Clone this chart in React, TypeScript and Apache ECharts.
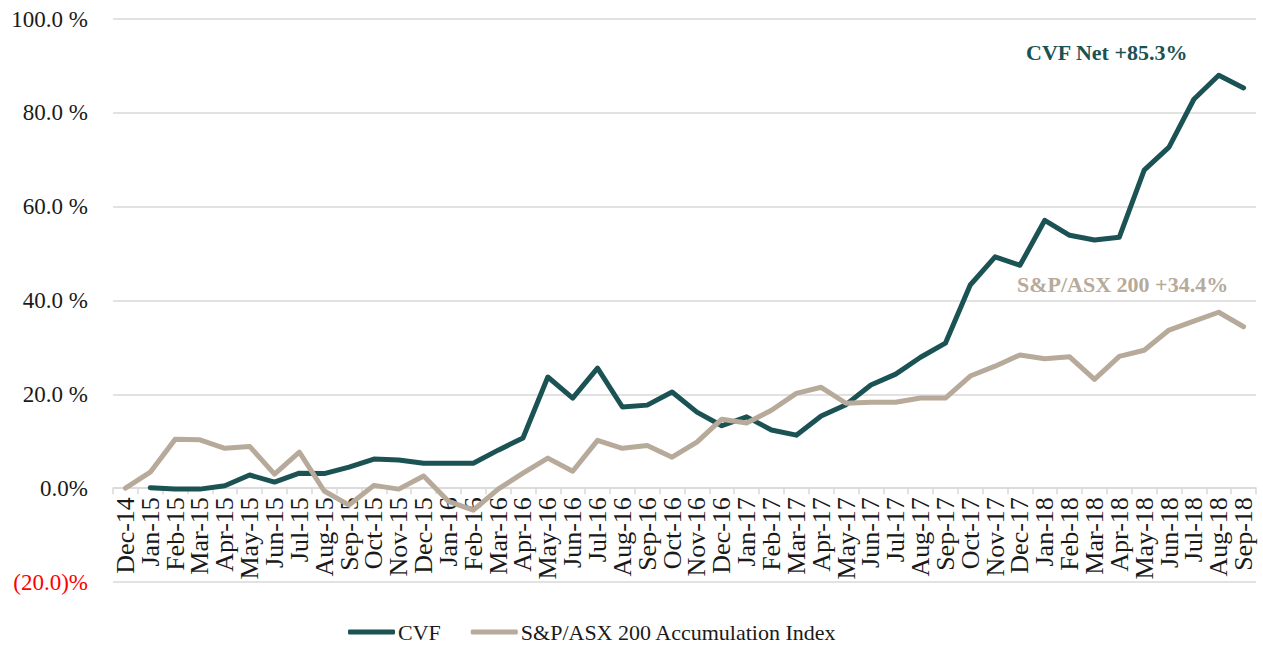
import React, { useEffect, useRef } from "react";
import * as echarts from "echarts";

const categories = [
  "Dec-14","Jan-15","Feb-15","Mar-15","Apr-15","May-15","Jun-15","Jul-15","Aug-15","Sep-15","Oct-15","Nov-15",
  "Dec-15","Jan-16","Feb-16","Mar-16","Apr-16","May-16","Jun-16","Jul-16","Aug-16","Sep-16","Oct-16","Nov-16",
  "Dec-16","Jan-17","Feb-17","Mar-17","Apr-17","May-17","Jun-17","Jul-17","Aug-17","Sep-17","Oct-17","Nov-17",
  "Dec-17","Jan-18","Feb-18","Mar-18","Apr-18","May-18","Jun-18","Jul-18","Aug-18","Sep-18",
];

const cvf: (number | null)[] = [
  null, 0.1, -0.2, -0.2, 0.5, 2.8, 1.3, 3.2, 3.1, 4.5, 6.2, 6.0,
  5.3, 5.3, 5.3, 8.1, 10.7, 23.7, 19.2, 25.6, 17.3, 17.7, 20.5, 16.2,
  13.3, 15.2, 12.4, 11.3, 15.4, 17.8, 22.0, 24.3, 27.9, 30.9, 43.3, 49.3,
  47.5, 57.1, 53.9, 52.9, 53.5, 67.8, 72.7, 82.9, 88.0, 85.3,
];

const asx200: number[] = [
  0, 3.4, 10.4, 10.3, 8.5, 8.9, 3.0, 7.7, -0.6, -3.6, 0.6, -0.2,
  2.6, -2.8, -4.7, -0.2, 3.2, 6.4, 3.6, 10.2, 8.5, 9.1, 6.6, 9.8,
  14.7, 13.9, 16.6, 20.2, 21.5, 18.1, 18.3, 18.3, 19.2, 19.2, 23.9, 26.0,
  28.4, 27.6, 28.0, 23.2, 28.1, 29.4, 33.7, 35.6, 37.5, 34.4,
];

const yMin = -20;
const yMax = 100;
const yStep = 20;

const seriesNames = ["CVF", "S&P/ASX 200 Accumulation Index"];
const annotations = ["CVF Net +85.3%", "S&P/ASX 200 +34.4%"];

const TEAL = "#1b5254";
const TAN = "#b7aa9a";
const GRID = "#d9d9d9";
const FONT = "'Liberation Serif', 'Times New Roman', serif";

export default function App() {
  const ref = useRef<HTMLDivElement>(null);
  useEffect(() => {
    if (!ref.current) return;
    const chart = echarts.init(ref.current, null, { renderer: "svg" });
    chart.setOption({
      animation: false,
      backgroundColor: "#ffffff",
      textStyle: { fontFamily: FONT },
      grid: { left: 113, right: 7, top: 19, bottom: 66, containLabel: false, outerBoundsMode: "none" },
      legend: {
        left: 348,
        top: 621,
        padding: 0,
        itemWidth: 47,
        itemHeight: 5,
        itemGap: 30,
        icon: "roundRect",
        textStyle: { fontFamily: FONT, fontSize: 22, color: "#1a1a1a", padding: [0, 0, 0, -2] },
        data: seriesNames,
      },
      xAxis: {
        type: "category",
        data: categories,
        boundaryGap: true,
        offset: 0,
        axisLine: { show: true, onZero: false, lineStyle: { color: GRID, width: 1.5 } },
        axisTick: { show: true, length: 6, lineStyle: { color: GRID, width: 1.5 } },
        axisLabel: {
          interval: 0,
          rotate: 90,
          margin: 9,
          fontFamily: FONT,
          fontSize: 26,
          color: "#1a1a1a",
        },
        splitLine: { show: false },
      },
      yAxis: {
        type: "value",
        min: yMin,
        max: yMax,
        interval: yStep,
        axisLine: { show: false },
        axisTick: { show: false },
        splitLine: { show: true, lineStyle: { color: GRID, width: 1.5 } },
        axisLabel: {
          margin: 25,
          fontFamily: FONT,
          fontSize: 23,
          color: (v: any) => (Number(v) < 0 ? "#ff0000" : "#1a1a1a"),
          formatter: (v: number) => {
            if (v === 0) return "0.0%";
            if (v < 0) return `(${Math.abs(v).toFixed(1)})%`;
            return `${v.toFixed(1)} %`;
          },
        },
      },
      series: [
        {
          name: seriesNames[0],
          type: "line",
          data: cvf,
          showSymbol: false,
          symbol: "none",
          color: TEAL,
          lineStyle: { color: TEAL, width: 5, cap: "round", join: "round" },
        },
        {
          name: seriesNames[1],
          type: "line",
          data: asx200,
          showSymbol: false,
          symbol: "none",
          color: TAN,
          lineStyle: { color: TAN, width: 5, cap: "round", join: "round" },
        },
      ],
      graphic: [
        {
          type: "text",
          left: 1026,
          top: 41,
          style: { text: annotations[0], fill: TEAL, font: `bold 22px ${FONT}` },
        },
        {
          type: "text",
          left: 1017,
          top: 273,
          style: { text: annotations[1], fill: TAN, font: `bold 22px ${FONT}` },
        },
      ],
    });
    // place the category axis on the zero line (as in the reference)
    const zeroY = chart.convertToPixel({ yAxisIndex: 0 }, 0) as number;
    const bottomY = chart.convertToPixel({ yAxisIndex: 0 }, yMin) as number;
    chart.setOption({ xAxis: { offset: zeroY - bottomY } });
    return () => chart.dispose();
  }, []);
  return <div ref={ref} style={{ width: 1263, height: 648, position: "absolute", left: 0, top: 0 }} />;
}
